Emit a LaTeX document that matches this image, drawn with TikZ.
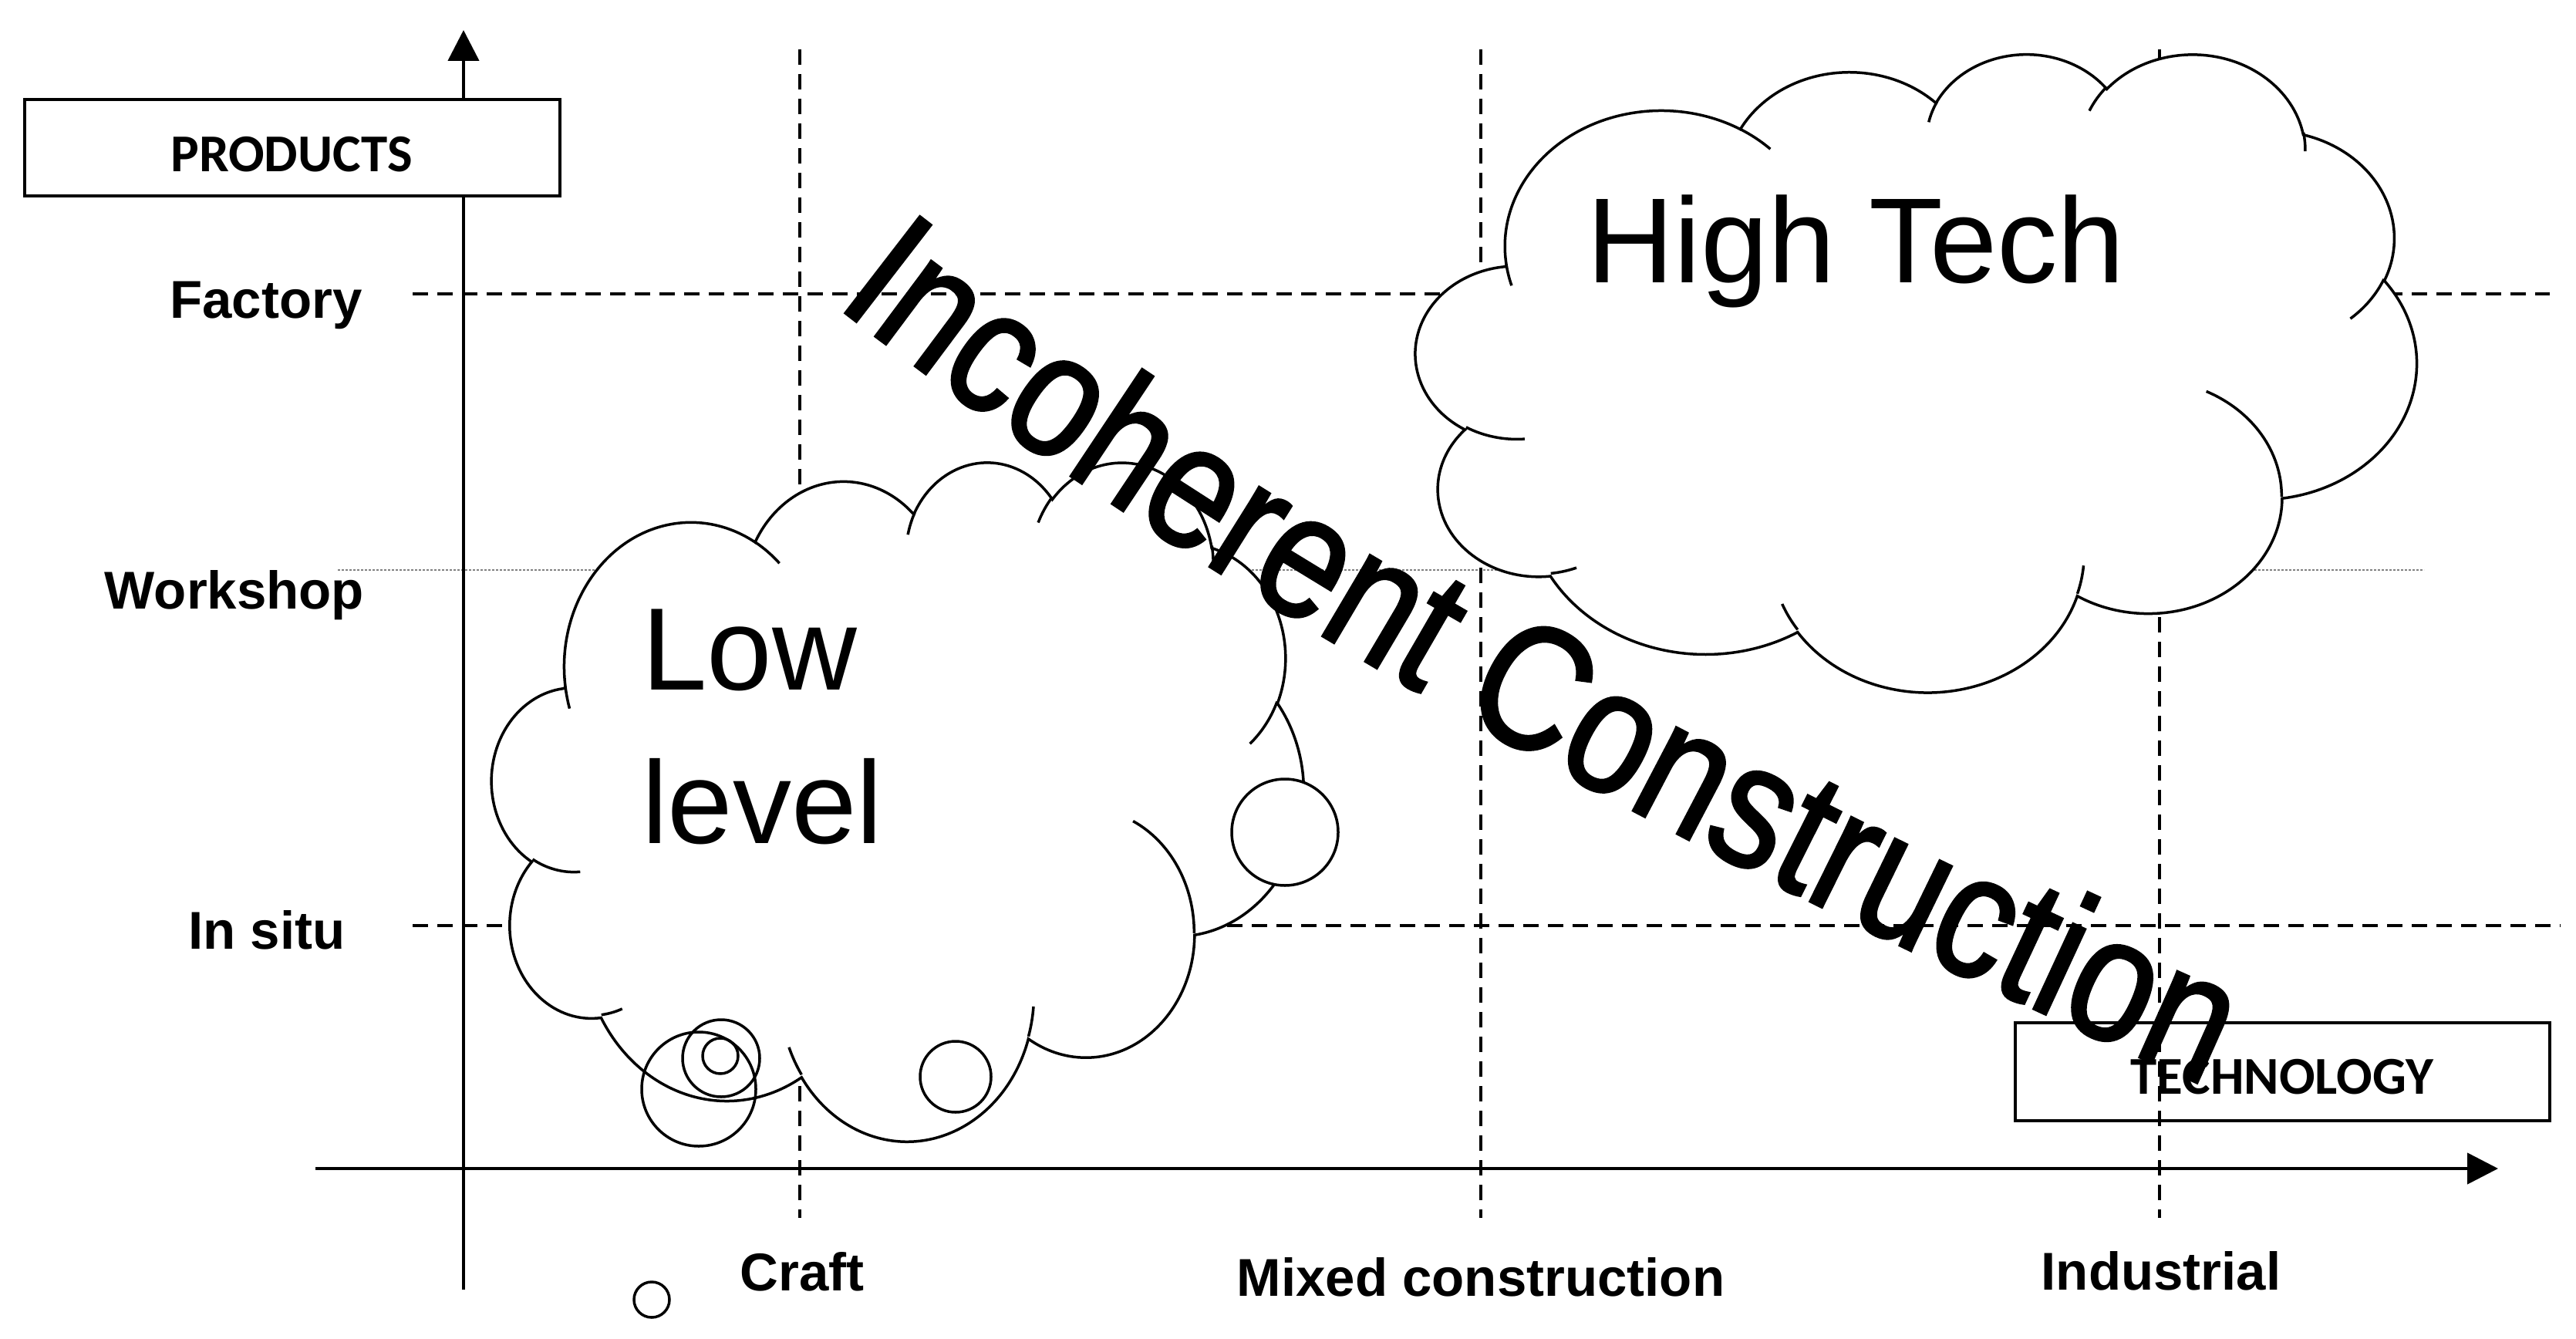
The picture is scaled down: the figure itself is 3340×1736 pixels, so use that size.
\documentclass[tikz,border=0pt]{standalone}
\usepackage{fontspec}
\setmainfont{Liberation Sans}
\newfontfamily\calibfont{Carlito}
\newfontfamily\incofont[FakeStretch=0.84,FakeBold=1.5]{Liberation Sans}
\usetikzlibrary{arrows.meta,decorations.text}

% convert a DrawingML arc (visual angles, degrees) into parametric start/delta angles
\newcommand\prepArc[5]{%
  \pgfmathsetmacro\pArcS{atan2((#2)*sin(#4),(#3)*cos(#4))}%
  \pgfmathsetmacro\pArcE{atan2((#2)*sin((#4)+(#5)),(#3)*cos((#4)+(#5)))}%
  \pgfmathsetmacro\pArcD{ifthenelse((#5)>0,mod(\pArcE-\pArcS+720,360),-mod(\pArcS-\pArcE+720,360))}%
  \expandafter\xdef\csname cldS#1\endcsname{\pArcS}%
  \expandafter\xdef\csname cldD#1\endcsname{\pArcD}%
}

\tikzset{
  axisline/.style={line width=4.5pt,-{Triangle[length=40pt,width=40pt]}},
  gridline/.style={line width=4.2pt,dash pattern=on 20pt off 12pt},
  dotline/.style={line width=2pt,black!50,dash pattern=on 2.5pt off 2.5pt},
  cloudline/.style={line width=3.5pt,draw=black,fill=white},
  cloudinner/.style={line width=3.5pt,draw=black},
  bubble/.style={circle,draw,line width=3.5pt,inner sep=0pt},
  frame/.style={draw,line width=4pt,inner sep=0pt},
  axislab/.style={font=\fontsize{69}{80}\selectfont\bfseries,inner sep=0pt,anchor=base},
  boxlab/.style={font=\calibfont\fontsize{69}{80}\selectfont\bfseries,inner sep=0pt,anchor=base},
  bigtext/.style={font=\fontsize{157}{157}\selectfont,inner sep=0pt,anchor=base west},
}

\newcommand\cloudshape[4]{%
\begin{scope}[shift={(#1,#2)},xscale=#3/43.2,yscale=#4/43.2]
\filldraw[cloudline] (3.900,14.370)
 arc[x radius=6.753,y radius=9.190,start angle=\cldSA,delta angle=\cldDA]
 arc[x radius=5.333,y radius=7.267,start angle=\cldSB,delta angle=\cldDB]
 arc[x radius=4.365,y radius=5.945,start angle=\cldSC,delta angle=\cldDC]
 arc[x radius=4.857,y radius=6.595,start angle=\cldSD,delta angle=\cldDD]
 arc[x radius=5.333,y radius=7.273,start angle=\cldSE,delta angle=\cldDE]
 arc[x radius=6.775,y radius=9.220,start angle=\cldSF,delta angle=\cldDF]
 arc[x radius=5.785,y radius=7.867,start angle=\cldSG,delta angle=\cldDG]
 arc[x radius=6.752,y radius=9.215,start angle=\cldSH,delta angle=\cldDH]
 arc[x radius=7.720,y radius=10.543,start angle=\cldSI,delta angle=\cldDI]
 arc[x radius=4.360,y radius=5.918,start angle=\cldSJ,delta angle=\cldDJ]
 arc[x radius=4.345,y radius=5.945,start angle=\cldSK,delta angle=\cldDK]
 -- cycle;
\draw[cloudinner]
 (4.693,26.177) arc[x radius=4.345,y radius=5.945,start angle=\cldSa,delta angle=\cldDa]
 (6.928,34.899) arc[x radius=4.360,y radius=5.918,start angle=\cldSb,delta angle=\cldDb]
 (16.478,39.090) arc[x radius=6.752,y radius=9.215,start angle=\cldSc,delta angle=\cldDc]
 (28.827,34.751) arc[x radius=6.752,y radius=9.215,start angle=\cldSd,delta angle=\cldDd]
 (34.129,22.954) arc[x radius=5.785,y radius=7.867,start angle=\cldSe,delta angle=\cldDe]
 (41.798,15.354) arc[x radius=5.333,y radius=7.273,start angle=\cldSf,delta angle=\cldDf]
 (38.324,5.426) arc[x radius=4.857,y radius=6.595,start angle=\cldSg,delta angle=\cldDg]
 (29.078,3.952) arc[x radius=4.857,y radius=6.595,start angle=\cldSh,delta angle=\cldDh]
 (22.141,4.720) arc[x radius=4.365,y radius=5.945,start angle=\cldSi,delta angle=\cldDi]
 (14.000,5.192) arc[x radius=6.753,y radius=9.190,start angle=\cldSj,delta angle=\cldDj]
 (4.127,15.789) arc[x radius=6.753,y radius=9.190,start angle=\cldSk,delta angle=\cldDk];
\end{scope}}

\begin{document}
\begin{tikzpicture}[x=1pt,y=-1pt]
\prepArc{A}{6.753}{9.190}{-190.48748}{123.78053}
\prepArc{B}{5.333}{7.267}{-144.10238}{89.94523}
\prepArc{C}{4.365}{5.945}{-145.80792}{99.72302}
\prepArc{D}{4.857}{6.595}{-130.98607}{117.24173}
\prepArc{E}{5.333}{7.273}{-78.70888}{109.02692}
\prepArc{F}{6.775}{9.220}{-46.26725}{130.26900}
\prepArc{G}{5.785}{7.867}{0.62502}{114.03333}
\prepArc{H}{6.752}{9.215}{22.45160}{115.17255}
\prepArc{I}{7.720}{10.543}{66.24263}{75.71102}
\prepArc{J}{4.360}{5.918}{-274.94208}{146.73557}
\prepArc{K}{4.345}{5.945}{-246.82850}{152.51885}
\prepArc{a}{4.345}{5.945}{86.74200}{26.42950}
\prepArc{b}{4.360}{5.918}{73.61047}{11.44747}
\prepArc{c}{6.752}{9.215}{137.62415}{14.08110}
\prepArc{d}{6.752}{9.215}{6.45327}{15.99835}
\prepArc{e}{5.785}{7.867}{-70.29235}{70.91737}
\prepArc{f}{5.333}{7.273}{30.31803}{27.75150}
\prepArc{g}{4.857}{6.595}{-13.74433}{14.85890}
\prepArc{h}{4.857}{6.595}{-149.18145}{18.19537}
\prepArc{i}{4.365}{5.945}{-163.49427}{17.68635}
\prepArc{j}{6.753}{9.190}{-66.70695}{12.31935}
\prepArc{k}{6.753}{9.190}{157.65435}{11.85817}

\useasboundingbox[fill=white] (0,0) rectangle (3340,1736);

% grid lines
\coordinate (facL) at (535,381);   \coordinate (facR) at (3306,381);
\coordinate (wsL) at (438,739);    \coordinate (wsR) at (3143,739);
\coordinate (isL) at (535,1200);   \coordinate (isR) at (3320,1200);
\coordinate (crT) at (1037,64);    \coordinate (crB) at (1037,1579);
\coordinate (mxT) at (1920,64);    \coordinate (mxB) at (1920,1579);
\coordinate (inT) at (2800,64);    \coordinate (inB) at (2800,1579);
\draw[gridline] (facL) -- (facR);
\draw[gridline] (isL) -- (isR);
\draw[dotline] (wsL) -- (wsR);
\draw[gridline] (crT) -- (crB);
\draw[gridline] (mxT) -- (mxB);
\draw[gridline] (inT) -- (inB);

% axes
\coordinate (yB) at (601,1672); \coordinate (yT) at (601,39);
\coordinate (xL) at (409,1515); \coordinate (xR) at (3239,1515);
\draw[axisline] (yB) -- (yT);
\draw[axisline] (xL) -- (xR);

% clouds
\cloudshape{1836}{68}{1297}{827}
\cloudshape{638}{597}{1052}{880}

% thought bubbles
\node[bubble,minimum size=148pt] (bubA) at (906,1412) {};
\node[bubble,minimum size=100pt] (bubB) at (935,1372) {};
\node[bubble,minimum size=46pt] (bubC) at (934,1369) {};
\node[bubble,minimum size=92pt] (bubD) at (1239,1396) {};
\node[bubble,minimum size=138pt,fill=white] (bubE) at (1666,1079) {};
\node[bubble,minimum size=46pt] (bubF) at (845,1685) {};

% boxes
\node[frame,fill=white,minimum width=694pt,minimum height=125pt] (prodbox) at (379,191.5) {};
\node[boxlab] (prod) at (378,223) {PRODUCTS};
\node[frame,minimum width=693pt,minimum height=127pt] (techbox) at (2959.5,1389) {};
\node[boxlab] (tech) at (2959,1418) {TECHNOLOGY};

% axis labels
\node[axislab] (factory) at (345,412) {Factory};
\node[axislab] (workshop) at (304,789) {Workshop};
\node[axislab] (insitu) at (346,1230) {In situ};
\node[axislab] (craft) at (1040,1673) {Craft};
\node[axislab] (mixed) at (1920,1680) {Mixed construction};
\node[axislab] (industrial) at (2802,1672) {Industrial};

% cloud texts
\node[bigtext] (hightech) at (2057,366) {High Tech};
\node[bigtext,font=\fontsize{152}{152}\selectfont] (low) at (832,894) {Low};
\node[bigtext,font=\fontsize{152}{152}\selectfont] (level) at (832,1093) {level};

% curved word art
\path[decorate,decoration={text along path,text align=left,
  text={|\incofont\fontsize{230}{230}\selectfont|Incoherent Construction}}]
  (1082,395) .. controls (1515,733) and (2100,1072) .. (2840,1400) -- (3140,1534);
\end{tikzpicture}
\end{document}
